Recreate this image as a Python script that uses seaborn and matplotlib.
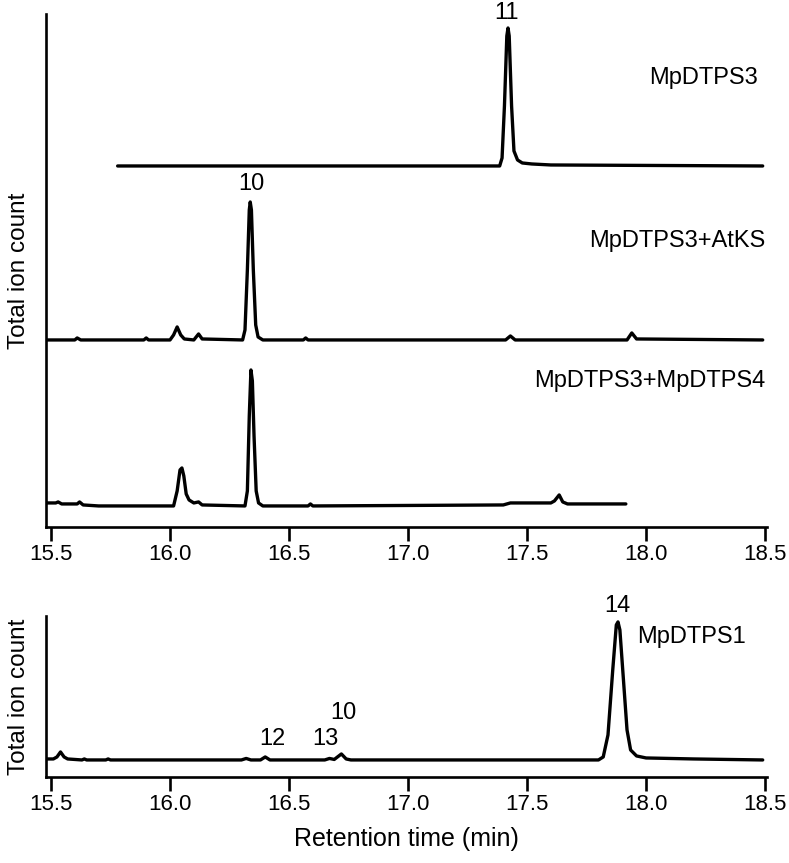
import numpy as np
import pandas as pd
import seaborn as sns
import matplotlib.pyplot as plt
from matplotlib import font_manager

# retention times (min) and signal above each trace's own baseline
mpdtps3_rt = [15.78, 17.385, 17.395, 17.405, 17.415, 17.42, 17.425, 17.435,
              17.445, 17.46, 17.48, 17.52, 17.60, 18.49]
mpdtps3_sig = [0, 0, 8, 60, 130, 138, 130, 60, 15, 6, 3, 2, 1, 0]

atks_rt = [15.48, 15.60, 15.61, 15.625, 15.89, 15.90, 15.91, 16.00, 16.015,
           16.03, 16.045, 16.06, 16.10, 16.12, 16.135, 16.305, 16.315, 16.325,
           16.333, 16.337, 16.342, 16.35, 16.36, 16.37, 16.39, 16.56, 16.57,
           16.58, 17.41, 17.43, 17.45, 17.92, 17.94, 17.96, 18.49]
atks_sig = [0, 0, 2, 0, 0, 2, 0, 0, 5, 13, 5, 1, 0, 6, 1, 0, 10, 70, 130, 138,
            130, 70, 15, 3, 0, 0, 2, 0, 0, 4, 0, 0, 7, 1, 0]

mpdtps4_rt = [15.48, 15.52, 15.53, 15.545, 15.61, 15.62, 15.635, 15.70,
              16.015, 16.03, 16.042, 16.05, 16.058, 16.068, 16.08, 16.10,
              16.12, 16.135, 16.315, 16.325, 16.333, 16.34, 16.346, 16.353,
              16.362, 16.372, 16.39, 16.58, 16.59, 16.60, 17.40, 17.43, 17.60,
              17.615, 17.635, 17.65, 17.67, 17.915]
mpdtps4_sig = [3, 3, 4, 2, 2, 4, 1, 0, 0, 15, 36, 38, 30, 12, 6, 3, 4, 1, 0,
               15, 90, 136, 125, 70, 15, 3, 0, 0, 2, 0, 1, 3, 3, 5, 11, 4, 2, 2]

mpdtps1_rt = [15.48, 15.51, 15.525, 15.54, 15.555, 15.57, 15.63, 15.64, 15.65,
              15.73, 15.74, 15.75, 16.30, 16.32, 16.34, 16.38, 16.40, 16.42,
              16.65, 16.67, 16.69, 16.72, 16.74, 16.76, 17.80, 17.82, 17.84,
              17.86, 17.875, 17.882, 17.89, 17.905, 17.92, 17.935, 17.96,
              18.00, 18.20, 18.49]
mpdtps1_sig = [1, 1, 3, 8, 3, 1, 0, 1, 0, 0, 1, 0, 0, 1.5, 0, 0, 3, 0, 0, 1.5,
               0.5, 6, 1, 0, 0, 3, 25, 90, 135, 138, 130, 80, 30, 10, 4, 2, 1, 0]

sample_names = ["MpDTPS3", "MpDTPS3+AtKS", "MpDTPS3+MpDTPS4", "MpDTPS1"]
xticks = [15.5, 16.0, 16.5, 17.0, 17.5, 18.0, 18.5]

# layout
top_offsets = [361, 187, 21]
bot_offset = 17
XLIM = (15.479, 18.508)
LW = 2.4
SPINE = 1.9
FS_NAME = 17
FS_PEAK = 17
FS_TICK = 16

sns.set_theme(style="ticks")
have_narrow = any("Liberation Sans Narrow" in f.name for f in font_manager.fontManager.ttflist)
fam = "Liberation Sans Narrow" if have_narrow else "Liberation Sans"
plt.rcParams['font.family'] = [fam, 'DejaVu Sans']
plt.rcParams['text.color'] = 'black'

fig = plt.figure(figsize=(7.89, 8.63), dpi=100)
ax_top = fig.add_axes([0.0583, 0.3894, 0.9138, 0.5944])
ax_bot = fig.add_axes([0.0583, 0.0997, 0.9138, 0.1866])

top_traces = [(mpdtps3_rt, mpdtps3_sig), (atks_rt, atks_sig), (mpdtps4_rt, mpdtps4_sig)]
for (rt, sig), off in zip(top_traces, top_offsets):
    df = pd.DataFrame({"rt": rt, "tic": np.array(sig, dtype=float) + off})
    sns.lineplot(data=df, x="rt", y="tic", ax=ax_top, color="black", lw=LW,
                 estimator=None, sort=False)

df = pd.DataFrame({"rt": mpdtps1_rt, "tic": np.array(mpdtps1_sig, dtype=float) + bot_offset})
sns.lineplot(data=df, x="rt", y="tic", ax=ax_bot, color="black", lw=LW,
             estimator=None, sort=False)

ax_top.set_ylim(0, 513)
ax_bot.set_ylim(0, 161)

for ax in (ax_top, ax_bot):
    ax.set_xlim(*XLIM)
    ax.set_xticks(xticks)
    ax.set_xticklabels([f"{t:.1f}" for t in xticks])
    ax.set_yticks([])
    for s in ("top", "right"):
        ax.spines[s].set_visible(False)
    for s in ("left", "bottom"):
        ax.spines[s].set_linewidth(SPINE)
        ax.spines[s].set_color("black")
    ax.tick_params(axis="x", length=10, width=SPINE, labelsize=FS_TICK, pad=2,
                   color="black", labelcolor="black")
    ax.set_ylabel("Total ion count", fontsize=17.5, color="black")
    ax.yaxis.set_label_coords(-0.022, 0.5)
    ax.set_xlabel("")

ax_bot.set_xlabel("Retention time (min)", fontsize=18, color="black")
ax_bot.xaxis.set_label_coords(0.5, -0.31)

# sample names
ax_top.text(18.47, 449, sample_names[0], ha="right", va="center", fontsize=FS_NAME)
ax_top.text(18.50, 286, sample_names[1], ha="right", va="center", fontsize=FS_NAME)
ax_top.text(18.50, 146, sample_names[2], ha="right", va="center", fontsize=FS_NAME)
ax_bot.text(17.962, 140, sample_names[3], ha="left", va="center", fontsize=FS_NAME)

# peak numbers
ax_top.text(17.412, 514, "11", ha="center", va="center", fontsize=FS_PEAK)
ax_top.text(16.34, 343, "10", ha="center", va="center", fontsize=FS_PEAK)
ax_bot.text(17.878, 171, "14", ha="center", va="center", fontsize=FS_PEAK)
ax_bot.text(16.429, 38, "12", ha="center", va="center", fontsize=FS_PEAK)
ax_bot.text(16.651, 38, "13", ha="center", va="center", fontsize=FS_PEAK)
ax_bot.text(16.727, 64, "10", ha="center", va="center", fontsize=FS_PEAK)

fig.savefig("out.png", dpi=100, facecolor="white")
